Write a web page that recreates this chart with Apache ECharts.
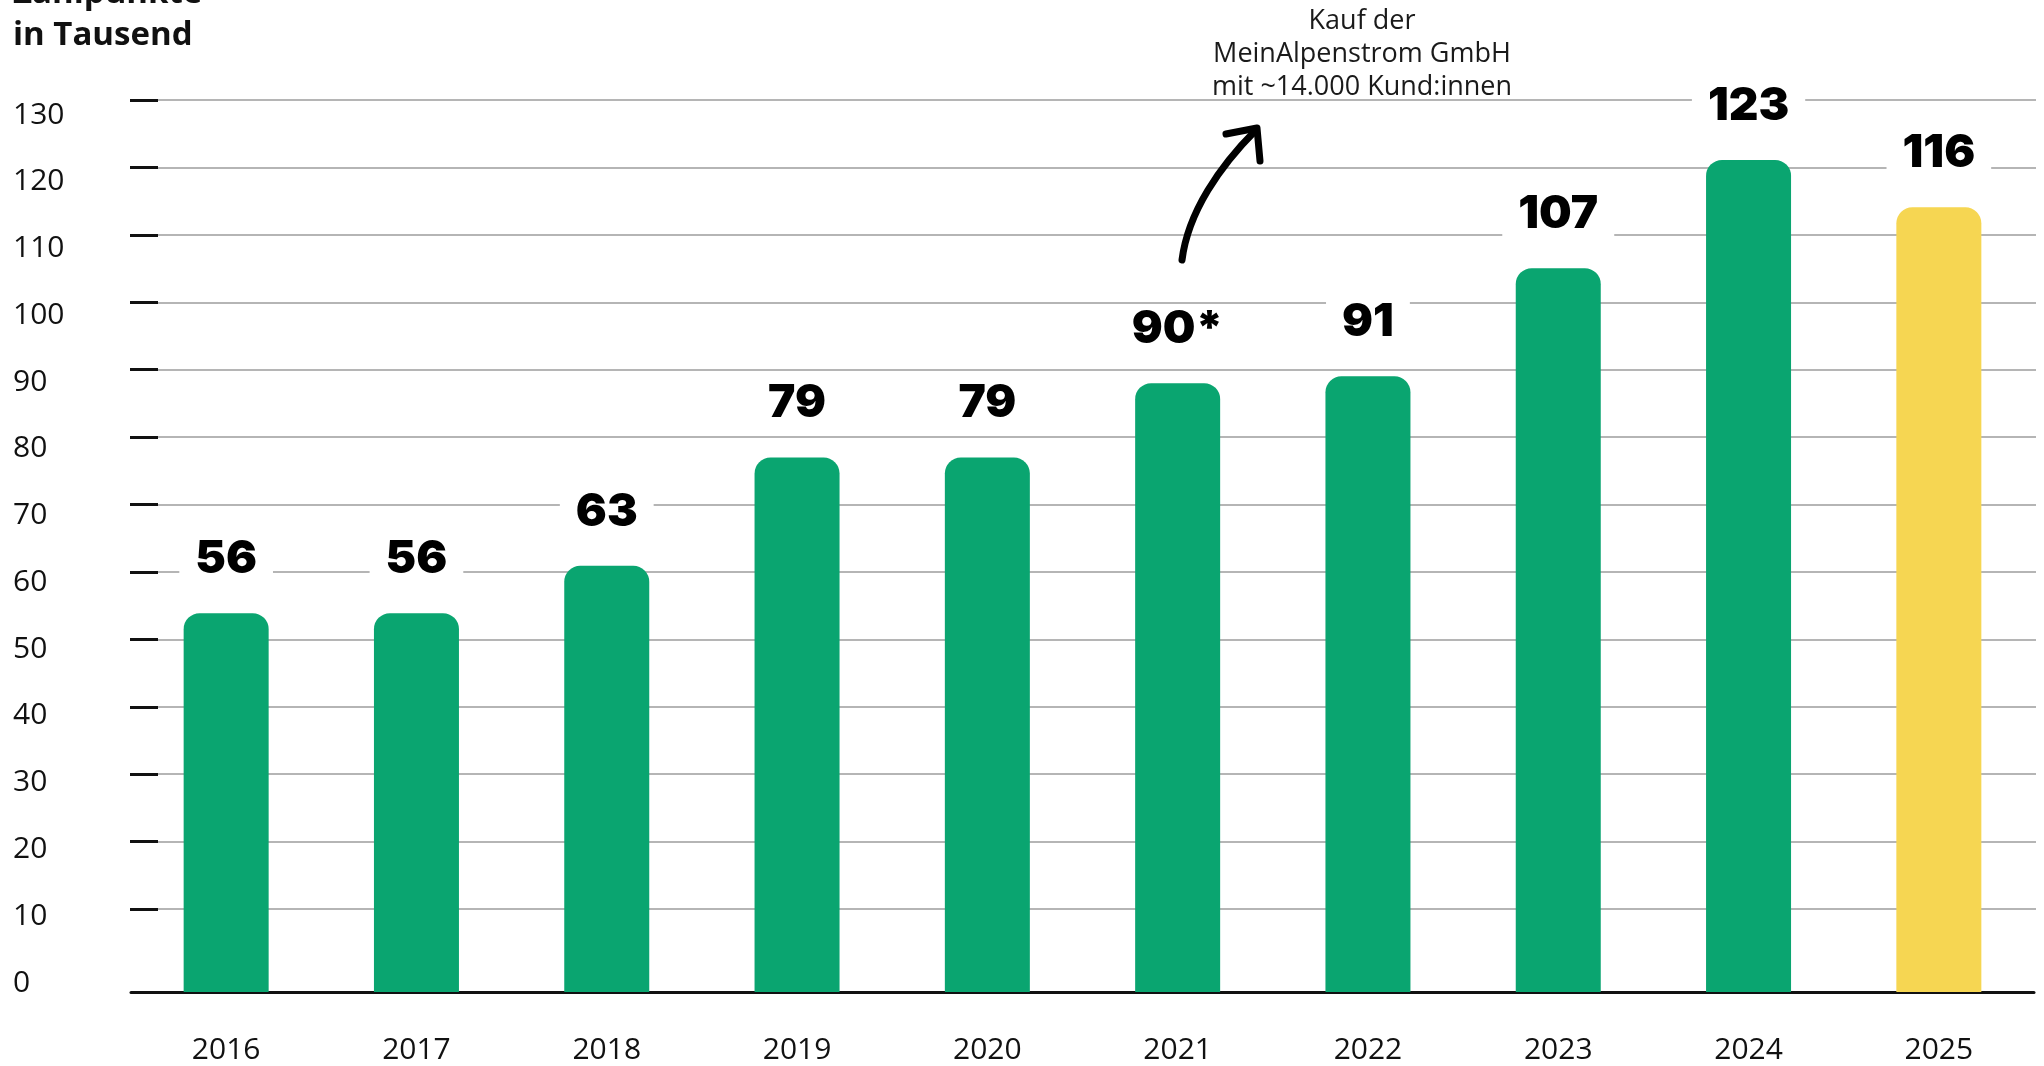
<!DOCTYPE html>
<html>
<head>
<meta charset="utf-8">
<script src="https://cdn.jsdelivr.net/npm/echarts@6/dist/echarts.min.js"></script>
<style>
  html, body { margin: 0; padding: 0; background: #ffffff; }
  #chart { width: 2044px; height: 1066px; }
</style>
</head>
<body>
<div id="chart"></div>
<script>
// ---- data ----
const categories = ['2016', '2017', '2018', '2019', '2020', '2021', '2022', '2023', '2024', '2025'];
const values = [56, 56, 63, 79, 79, 90, 91, 107, 123, 116];
const valueLabels = ['56', '56', '63', '79', '79', '90*', '91', '107', '123', '116'];
const highlightCategory = '2025';
const yMin = 0;
const yMax = 130;
const yStep = 10;
const titleText = 'Zählpunkte\nin Tausend';
const noteText = 'Kauf der\nMeinAlpenstrom GmbH\nmit ~14.000 Kund:innen';

// ---- styles ----
const GREEN = '#0AA570';
const YELLOW = '#F6D652';
const INK = '#111111';
const GRID_GREY = '#9c9c9c';
const FONT = '"Open Sans", "Noto Sans", sans-serif';
const BOLD_FONT = 'Inter, "Open Sans", sans-serif';

const chart = echarts.init(document.getElementById('chart'), null, { renderer: 'canvas' });

const barData = values.map((v, i) => ({
  value: v,
  itemStyle: { color: categories[i] === highlightCategory ? YELLOW : GREEN }
}));

const option = {
  backgroundColor: '#ffffff',
  animation: false,
  title: {
    text: titleText,
    left: 13,
    top: -27,
    padding: 0,
    textStyle: {
      fontFamily: FONT,
      fontSize: 33,
      fontWeight: 'bold',
      lineHeight: 42,
      color: INK
    }
  },
  grid: [
    // bars
    { left: 131, right: 10, top: 99, bottom: 74 },
    // grid lines + ticks
    { left: 158, right: 8, top: 100, bottom: 157 },
    // tick labels
    { left: 158, right: 8, top: 115, bottom: 83 }
  ],
  xAxis: [
    {
      gridIndex: 0,
      type: 'category',
      data: categories,
      axisLine: { show: true, lineStyle: { color: INK, width: 3 } },
      axisTick: { show: false },
      axisLabel: {
        margin: 43,
        fontFamily: FONT,
        fontSize: 30,
        lineHeight: 30,
        color: INK
      }
    },
    { gridIndex: 1, type: 'category', data: categories, show: false },
    { gridIndex: 2, type: 'category', data: categories, show: false }
  ],
  yAxis: [
    {
      gridIndex: 0,
      type: 'value',
      min: 0,
      max: 132,
      show: false
    },
    {
      gridIndex: 1,
      type: 'value',
      min: yMin + yStep,
      max: yMax,
      interval: yStep,
      axisLine: { show: false },
      axisTick: { show: true, length: 28, lineStyle: { color: INK, width: 3 } },
      axisLabel: { show: false },
      splitLine: { show: true, lineStyle: { color: GRID_GREY, width: 1.6 } }
    },
    {
      gridIndex: 2,
      type: 'value',
      min: yMin,
      max: yMax,
      interval: yStep,
      axisLine: { show: false },
      axisTick: { show: false },
      splitLine: { show: false },
      axisLabel: {
        margin: 145,
        align: 'left',
        verticalAlign: 'middle',
        fontFamily: FONT,
        fontSize: 30,
        color: INK
      }
    }
  ],
  series: [
    {
      type: 'bar',
      xAxisIndex: 0,
      yAxisIndex: 0,
      data: barData,
      barWidth: 85,
      itemStyle: { borderRadius: [16, 16, 0, 0] },
      label: {
        show: true,
        position: 'top',
        distance: 32,
        formatter: (p) => valueLabels[p.dataIndex],
        fontFamily: BOLD_FONT,
        fontWeight: 900,
        fontSize: 46,
        lineHeight: 40,
        color: '#000000',
        backgroundColor: '#ffffff',
        padding: [2, 16, 2, 16]
      },
      z: 3
    }
  ],
  graphic: [
    {
      type: 'text',
      x: 1362,
      y: 5,
      z: 100,
      style: {
        text: noteText,
        font: '27px "Open Sans", sans-serif',
        lineHeight: 33,
        fill: '#1a1a1a',
        align: 'center',
        verticalAlign: 'top'
      }
    },
    {
      type: 'bezierCurve',
      z: 100,
      shape: { x1: 1182, y1: 260, cpx1: 1188, cpy1: 212, cpx2: 1220, cpy2: 166, x2: 1256, y2: 130 },
      style: { stroke: '#000000', lineWidth: 7, fill: null, lineCap: 'round' }
    },
    {
      type: 'polyline',
      z: 100,
      shape: { points: [[1226, 134], [1257, 128], [1260, 161]] },
      style: { stroke: '#000000', lineWidth: 7, fill: null, lineCap: 'round', lineJoin: 'round' }
    }
  ]
};

chart.setOption(option);
</script>
</body>
</html>
